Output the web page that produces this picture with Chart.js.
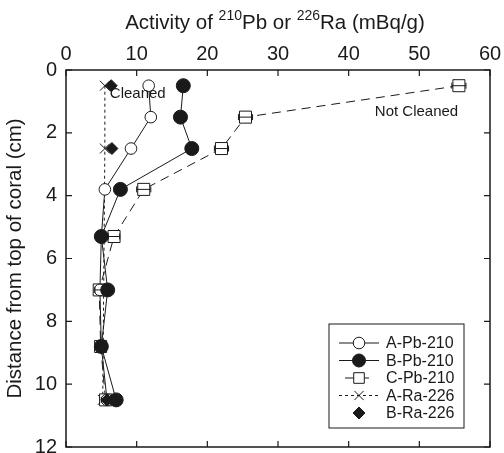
<!DOCTYPE html>
<html>
<head>
<meta charset="utf-8">
<script src="https://cdn.jsdelivr.net/npm/chart.js@4.4.1/dist/chart.umd.min.js"></script>
<style>
  html, body { margin: 0; padding: 0; background: #fff; }
  #wrap { width: 504px; height: 453px; }
</style>
</head>
<body>
<div id="wrap"><canvas id="grafica" width="504" height="453"></canvas></div>
<script>
// profundidades (cm) y actividades (mBq/g)
const profundidad = [0.5, 1.5, 2.5, 3.8, 5.3, 7.0, 8.8, 10.5];
const aPb210 = [11.7, 12.0, 9.2, 5.5, 5.0, 4.8, 5.0, 5.8];
const bPb210 = [16.6, 16.2, 17.8, 7.7, 5.0, 5.9, 5.0, 7.1];
const cPb210 = [55.6, 25.4, 22.0, 11.0, 6.8, 4.7, 4.9, 5.6];
const cError = [1.0, 1.0, 1.0, 1.0, 0.8, 0.6, 0.6, 0.6];
const profRa = [0.5, 2.5, 10.5];
const aRa226 = [5.5, 5.5, 5.2];
const bRa226 = [6.4, 6.5, 5.8];

const xTicks = [0, 10, 20, 30, 40, 50, 60];
const yTicks = [0, 2, 4, 6, 8, 10, 12];

const FUENTE = "'Liberation Sans', Arial, sans-serif";
const NEGRO = "#1a1a1a";

function puntos(xs, ys) {
  return xs.map((x, i) => ({ x: x, y: ys[i] }));
}

// ticks hacia dentro, marco, titulo con superindices, barras de error, leyenda y notas
const extras = {
  id: "extras",
  afterDatasetsDraw(chart) {
    const ctx = chart.ctx;
    const area = chart.chartArea;
    const sx = chart.scales.x;
    const sy = chart.scales.y;
    ctx.save();

    // barras de error de C-Pb-210
    ctx.strokeStyle = NEGRO;
    ctx.lineWidth = 1;
    cPb210.forEach((v, i) => {
      const y = sy.getPixelForValue(profundidad[i]);
      const x1 = sx.getPixelForValue(v - cError[i]);
      const x2 = sx.getPixelForValue(v + cError[i]);
      ctx.beginPath();
      ctx.moveTo(x1, y); ctx.lineTo(x2, y);
      ctx.moveTo(x1, y - 3); ctx.lineTo(x1, y + 3);
      ctx.moveTo(x2, y - 3); ctx.lineTo(x2, y + 3);
      ctx.stroke();
    });

    // marco
    ctx.lineWidth = 1.5;
    ctx.strokeRect(area.left, area.top, area.right - area.left, area.bottom - area.top);

    // ticks hacia dentro en los cuatro lados
    ctx.lineWidth = 1.2;
    ctx.beginPath();
    xTicks.forEach(t => {
      const x = sx.getPixelForValue(t);
      ctx.moveTo(x, area.top); ctx.lineTo(x, area.top + 6);
      ctx.moveTo(x, area.bottom); ctx.lineTo(x, area.bottom - 6);
    });
    yTicks.forEach(t => {
      const y = sy.getPixelForValue(t);
      ctx.moveTo(area.left, y); ctx.lineTo(area.left + 6, y);
      ctx.moveTo(area.right, y); ctx.lineTo(area.right - 6, y);
    });
    ctx.stroke();

    // titulo del eje x con superindices
    ctx.fillStyle = NEGRO;
    ctx.textBaseline = "alphabetic";
    const partes = [
      ["Activity of ", 20.5, 0],
      ["210", 14, -9],
      ["Pb or ", 20.5, 0],
      ["226", 14, -9],
      ["Ra (mBq/g)", 20.5, 0]
    ];
    let ancho = 0;
    partes.forEach(p => { ctx.font = p[1] + "px " + FUENTE; ancho += ctx.measureText(p[0]).width; });
    let cx = (area.left + area.right) / 2 - 3 - ancho / 2;
    partes.forEach(p => {
      ctx.font = p[1] + "px " + FUENTE;
      ctx.fillText(p[0], cx, 29 + p[2]);
      cx += ctx.measureText(p[0]).width;
    });

    // notas
    ctx.font = "15px " + FUENTE;
    ctx.textAlign = "left";
    ctx.fillText("Cleaned", sx.getPixelForValue(6.2), sy.getPixelForValue(0.89));
    ctx.fillText("Not Cleaned", sx.getPixelForValue(43.7), sy.getPixelForValue(1.46));

    // leyenda
    const lx = 329, ly = 324, lw = 135, lh = 104;
    ctx.lineWidth = 1;
    ctx.strokeStyle = NEGRO;
    ctx.strokeRect(lx, ly, lw, lh);
    ctx.font = "16px " + FUENTE;
    ctx.textBaseline = "middle";
    chart.data.datasets.forEach((ds, i) => {
      const y = ly + 19 + i * 17.5;
      const mx = lx + 30;
      if (ds.showLine) {
        ctx.save();
        ctx.strokeStyle = NEGRO;
        ctx.lineWidth = 1;
        ctx.setLineDash(ds.borderDash || []);
        ctx.beginPath();
        const mitad = ds.pointStyle === "rect" ? 14 : 20;
        ctx.moveTo(mx - mitad, y); ctx.lineTo(mx + mitad, y);
        ctx.stroke();
        ctx.restore();
      }
      const r = Math.min(ds.pointRadius, 6.5);
      ctx.fillStyle = ds.pointBackgroundColor;
      ctx.strokeStyle = NEGRO;
      ctx.lineWidth = ds.pointBorderWidth;
      Chart.helpers.drawPoint(ctx, {
        pointStyle: ds.pointStyle,
        radius: ds.pointStyle === "rect" ? 7.5 : r,
        borderWidth: ds.pointBorderWidth
      }, mx, y);
      ctx.fillStyle = NEGRO;
      ctx.fillText(ds.label, lx + 57, y + 1);
    });

    ctx.restore();
  }
};

const relleno = { left: 0, top: 0, right: 14, bottom: 6 };

const grafica = new Chart(document.getElementById("grafica"), {
  type: "scatter",
  data: {
    datasets: [
      {
        label: "A-Pb-210",
        data: puntos(aPb210, profundidad),
        showLine: true,
        borderColor: NEGRO,
        borderWidth: 1,
        pointStyle: "circle",
        pointRadius: 5.8,
        pointBorderWidth: 1,
        pointBackgroundColor: "#ffffff",
        pointBorderColor: NEGRO,
        order: 2
      },
      {
        label: "B-Pb-210",
        data: puntos(bPb210, profundidad),
        showLine: true,
        borderColor: NEGRO,
        borderWidth: 1,
        pointStyle: "circle",
        pointRadius: 7,
        pointBorderWidth: 1,
        pointBackgroundColor: NEGRO,
        pointBorderColor: NEGRO,
        order: 1
      },
      {
        label: "C-Pb-210",
        data: puntos(cPb210, profundidad),
        showLine: true,
        borderColor: NEGRO,
        borderWidth: 1,
        borderDash: [9, 6],
        pointStyle: "rect",
        pointRadius: 8.5,
        pointBorderWidth: 1,
        pointBackgroundColor: "#ffffff",
        pointBorderColor: NEGRO,
        order: 3
      },
      {
        label: "A-Ra-226",
        data: puntos(aRa226, profRa),
        showLine: true,
        borderColor: NEGRO,
        borderWidth: 1,
        borderDash: [3, 3],
        pointStyle: "crossRot",
        pointRadius: 7,
        pointBorderWidth: 1,
        pointBackgroundColor: NEGRO,
        pointBorderColor: NEGRO,
        order: 4
      },
      {
        label: "B-Ra-226",
        data: puntos(bRa226, profRa),
        showLine: false,
        pointStyle: "rectRot",
        pointRadius: 6,
        pointBorderWidth: 1,
        pointBackgroundColor: NEGRO,
        pointBorderColor: NEGRO,
        order: 0
      }
    ]
  },
  options: {
    responsive: false,
    animation: false,
    events: [],
    layout: { autoPadding: false, padding: relleno },
    plugins: {
      legend: { display: false },
      tooltip: { enabled: false }
    },
    scales: {
      x: {
        type: "linear",
        position: "top",
        min: 0,
        max: 60,
        afterBuildTicks: s => { s.ticks = xTicks.map(v => ({ value: v })); },
        afterFit: s => { s.height = 70; s.paddingLeft = 0; s.paddingRight = 0; },
        grid: { display: false, drawTicks: false },
        border: { display: false },
        ticks: { color: NEGRO, font: { family: FUENTE, size: 20 }, padding: 4, maxRotation: 0 }
      },
      y: {
        type: "linear",
        reverse: true,
        min: 0,
        max: 12,
        afterBuildTicks: s => { s.ticks = yTicks.map(v => ({ value: v })); },
        afterFit: s => { s.width = 66; s.paddingTop = 0; s.paddingBottom = 0; },
        grid: { display: false, drawTicks: false },
        border: { display: false },
        title: {
          display: true,
          text: "Distance from top of coral (cm)",
          color: NEGRO,
          font: { family: FUENTE, size: 20.5 },
          padding: { top: 3, bottom: 0 }
        },
        ticks: { color: NEGRO, font: { family: FUENTE, size: 20 }, padding: 9 }
      }
    }
  },
  plugins: [extras]
});

// ajustar el relleno hasta que el area quede donde en la figura original
const objetivo = { right: 490, bottom: 447 };
for (let i = 0; i < 4; i++) {
  const a = grafica.chartArea;
  const db = a.bottom - objetivo.bottom;
  const dr = a.right - objetivo.right;
  if (Math.abs(db) < 0.5 && Math.abs(dr) < 0.5) break;
  const p = grafica.config.options.layout.padding;
  p.bottom += db;
  p.right += dr;
  grafica.update();
}
</script>
</body>
</html>
